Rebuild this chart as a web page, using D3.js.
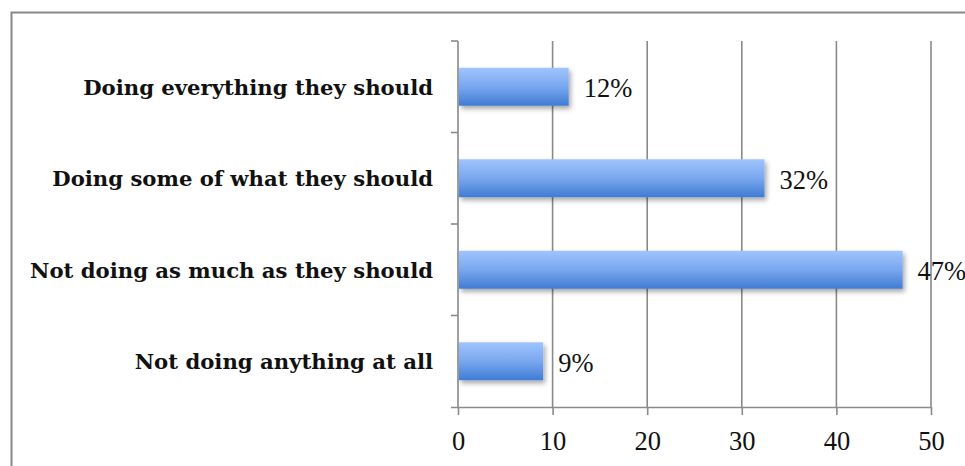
<!DOCTYPE html>
<html><head><meta charset="utf-8">
<script src="https://cdn.jsdelivr.net/npm/d3@7"></script>
<style>body{margin:0;background:#fff}svg{display:block}</style>
</head><body>
<svg id="c" width="965" height="466"></svg>
<script>
const categories = ["Doing everything they should","Doing some of what they should","Not doing as much as they should","Not doing anything at all"];
const values = [11.7, 32.4, 47.0, 9.0];
const labels = ["12%","32%","47%","9%"];
const ticks = [0,10,20,30,40,50];

const svg = d3.select("#c");
const m = {l:458, r:931, t:41, b:407};
const x = d3.scaleLinear().domain([0,50]).range([m.l, m.r]);
const y = d3.scaleBand().domain(categories).range([m.t, m.b]).paddingInner(0.585).paddingOuter(0.2925);
const numFont = "'Liberation Serif', serif";

// outer border
svg.append("path").attr("d","M11.5,466 V12.5 H965").attr("fill","none").attr("stroke","#888").attr("stroke-width",2);

const defs = svg.append("defs");
const g = defs.append("linearGradient").attr("id","bg").attr("x1",0).attr("y1",0).attr("x2",0).attr("y2",1);
g.append("stop").attr("offset","0%").attr("stop-color","#a0c4fd");
g.append("stop").attr("offset","50%").attr("stop-color","#79a7ef");
g.append("stop").attr("offset","100%").attr("stop-color","#3f7cd3");
const f = defs.append("filter").attr("id","sh").attr("x","-10%").attr("y","-20%").attr("width","130%").attr("height","160%");
f.append("feDropShadow").attr("dx",2).attr("dy",3).attr("stdDeviation",2.5).attr("flood-color","#000").attr("flood-opacity",0.35);

// gridlines
svg.append("g").selectAll("line").data(ticks.slice(1)).join("line")
  .attr("x1",d=>x(d)).attr("x2",d=>x(d)).attr("y1",m.t).attr("y2",m.b)
  .attr("stroke","#8a8a8a").attr("stroke-width",1.6);

// x axis
const xa = svg.append("g").attr("transform",`translate(0,${m.b})`)
  .call(d3.axisBottom(x).tickValues(ticks).tickSize(8));
xa.select(".domain").attr("d",`M${m.l-7},0.5H${m.r+1}`).attr("stroke","#8a8a8a").attr("stroke-width",1.6);
xa.selectAll(".tick line").attr("stroke","#8a8a8a").attr("stroke-width",1.6);
xa.selectAll(".tick text").attr("y",43).attr("dy",null)
  .attr("font-family",numFont).attr("font-size",26.5).attr("fill","#111");

// y axis
const yBounds = [m.t, m.t+(m.b-m.t)/4, m.t+(m.b-m.t)/2, m.t+3*(m.b-m.t)/4];
svg.append("line").attr("x1",m.l).attr("x2",m.l).attr("y1",m.t).attr("y2",m.b).attr("stroke","#8a8a8a").attr("stroke-width",1.6);
svg.append("g").selectAll("line").data(yBounds).join("line")
  .attr("x1",m.l-7).attr("x2",m.l).attr("y1",d=>d).attr("y2",d=>d)
  .attr("stroke","#8a8a8a").attr("stroke-width",1.6);
svg.append("g").selectAll("text").data(categories).join("text")
  .attr("x",433).attr("y",d=>y(d)+y.bandwidth()/2+8)
  .attr("text-anchor","end").attr("font-family","'DejaVu Serif', serif").attr("font-weight","bold")
  .attr("font-size",21.2).attr("fill","#111").text(d=>d);

// bars
svg.append("g").selectAll("rect").data(values).join("rect")
  .attr("x",x(0)+1).attr("y",(d,i)=>y(categories[i]))
  .attr("width",d=>x(d)-x(0)-1).attr("height",y.bandwidth())
  .attr("fill","url(#bg)").attr("filter","url(#sh)");

// value labels
svg.append("g").selectAll("text").data(values).join("text")
  .attr("x",d=>x(d)+15).attr("y",(d,i)=>y(categories[i])+y.bandwidth()/2+10.5)
  .attr("font-family",numFont).attr("font-size",26.5).attr("fill","#111")
  .text((d,i)=>labels[i]);
</script>
</body></html>
